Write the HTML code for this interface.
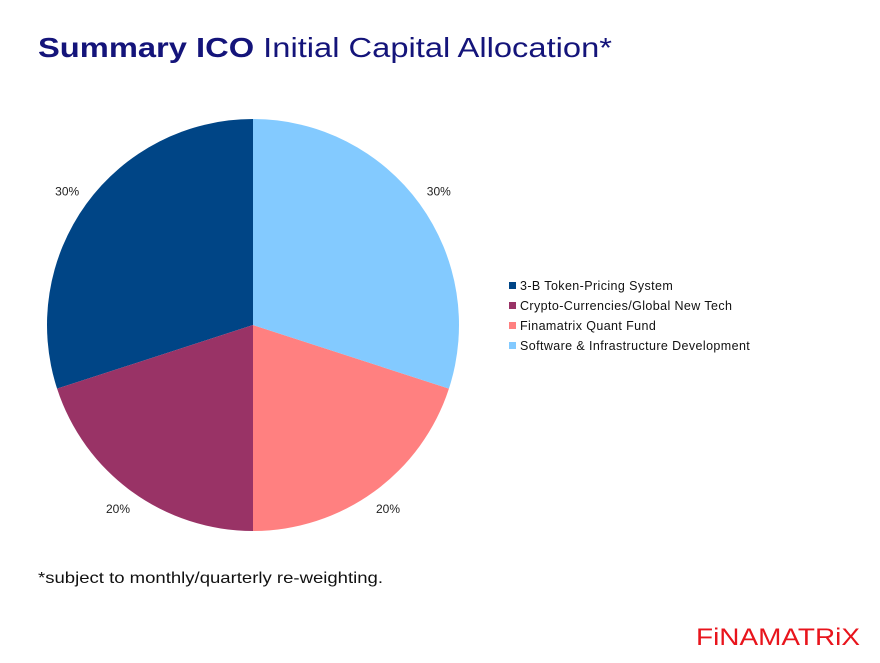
<!DOCTYPE html>
<html><head><meta charset="utf-8"><style>
body{margin:0;background:#fff;}
svg{display:block;font-family:"Liberation Sans",sans-serif;}
</style></head><body>
<svg width="880" height="663" viewBox="0 0 880 663">
<text x="38" y="57" font-size="28" fill="#14147a" textLength="574" lengthAdjust="spacingAndGlyphs"><tspan font-weight="bold">Summary ICO</tspan> Initial Capital Allocation*</text>
<g id="pie"></g>
<g id="legend"></g>
<text x="38" y="583" font-size="16" fill="#111" textLength="345" lengthAdjust="spacingAndGlyphs">*subject to monthly/quarterly re-weighting.</text>
<text x="860" y="645" font-size="24" fill="#e8141c" text-anchor="end" textLength="164" lengthAdjust="spacingAndGlyphs">FiNAMATRiX</text>
</svg>
<script>
const categories=["3-B Token-Pricing System","Crypto-Currencies/Global New Tech","Finamatrix Quant Fund","Software & Infrastructure Development"];
const values=[30,20,20,30];
const labels=["30%","20%","20%","30%"];
const colors=["#004586","#993366","#ff8080","#83caff"];
const NS="http://www.w3.org/2000/svg";
const cx=253,cy=325,r=206;
const pie=document.getElementById('pie');
const total=values.reduce((a,b)=>a+b,0);
let acc=0;
values.forEach((v,i)=>{
  const a0=-Math.PI/2-acc/total*2*Math.PI;
  acc+=v;
  const a1=-Math.PI/2-acc/total*2*Math.PI;
  const x0=cx+r*Math.cos(a0),y0=cy+r*Math.sin(a0);
  const x1=cx+r*Math.cos(a1),y1=cy+r*Math.sin(a1);
  const large=(v/total)>0.5?1:0;
  const p=document.createElementNS(NS,'path');
  p.setAttribute('d',`M${cx},${cy}L${x0},${y0}A${r},${r} 0 ${large} 0 ${x1},${y1}Z`);
  p.setAttribute('fill',colors[i]);
  
  
  pie.appendChild(p);
  const am=(a0+a1)/2;
  const lr=r+26;
  const t=document.createElementNS(NS,'text');
  t.setAttribute('x',cx+lr*Math.cos(am)*0.99);
  t.setAttribute('y',cy+lr*Math.sin(am)*0.98+4);
  t.setAttribute('font-size','12');
  t.setAttribute('text-anchor','middle');
  t.setAttribute('fill','#222');
  t.textContent=labels[i];
  
  
  pie.appendChild(t);
});
const lg=document.getElementById('legend');
categories.forEach((c,i)=>{
  const y=286+i*20;
  const s=document.createElementNS(NS,'rect');
  s.setAttribute('x',509);s.setAttribute('y',y-4);s.setAttribute('width',7);s.setAttribute('height',7);
  s.setAttribute('fill',colors[i]);
  
  
  lg.appendChild(s);
  const t=document.createElementNS(NS,'text');
  t.setAttribute('x',520);t.setAttribute('y',y+4);
  t.setAttribute('font-size','12.5');t.setAttribute('fill','#111');
  t.setAttribute('letter-spacing','0.4');
  t.textContent=c;
  
  
  lg.appendChild(t);
});
</script>
</body></html>
